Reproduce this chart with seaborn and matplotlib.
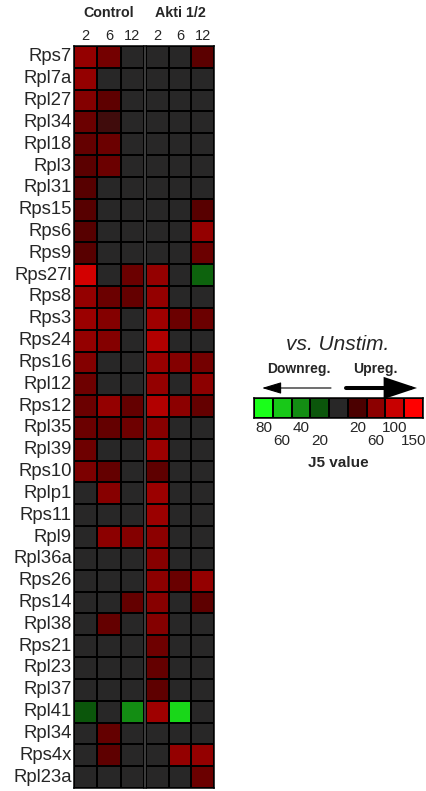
import numpy as np
import pandas as pd
import matplotlib
matplotlib.use("Agg")
import matplotlib.pyplot as plt
import seaborn as sns
from matplotlib.colors import LinearSegmentedColormap
from matplotlib.patches import FancyArrowPatch

sns.set_theme(style="white")
plt.rcParams['font.family'] = ['Liberation Sans', 'DejaVu Sans']

genes = ["Rps7", "Rpl7a", "Rpl27", "Rpl34", "Rpl18", "Rpl3", "Rpl31", "Rps15", "Rps6", "Rps9",
         "Rps27l", "Rps8", "Rps3", "Rps24", "Rps16", "Rpl12", "Rps12", "Rpl35", "Rpl39", "Rps10",
         "Rplp1", "Rps11", "Rpl9", "Rpl36a", "Rps26", "Rps14", "Rpl38", "Rps21", "Rpl23", "Rpl37",
         "Rpl41", "Rpl34", "Rps4x", "Rpl23a"]
timepoints = ["2", "6", "12"]

# signed J5 values (positive = upregulated, negative = downregulated, 0 = unchanged)
control_2 = [65, 65, 55, 40, 35, 30, 27, 27, 27, 28,
             110, 65, 70, 65, 55, 42, 40, 40, 42, 50,
             0, 0, 0, 0, 0, 0, 0, 0, 0, 0,
             -20, 0, 0, 0]
control_6 = [45, 0, 32, 14, 40, 40, 0, 0, 0, 0,
             0, 40, 55, 55, 0, 0, 65, 35, 0, 35,
             57, 0, 60, 0, 0, 0, 35, 0, 0, 0,
             0, 35, 32, 0]
control_12 = [0, 0, 0, 0, 0, 0, 0, 0, 0, 0,
              40, 35, 0, 0, 0, 0, 35, 42, 0, 0,
              0, 0, 55, 0, 0, 35, 0, 0, 0, 0,
              -40, 0, 0, 0]
akti_2 = [0, 0, 0, 0, 0, 0, 0, 0, 0, 0,
          65, 65, 72, 85, 68, 65, 85, 57, 70, 32,
          70, 70, 60, 57, 60, 57, 55, 42, 35, 32,
          72, 0, 0, 0]
akti_6 = [0, 0, 0, 0, 0, 0, 0, 0, 0, 0,
          0, 0, 40, 0, 55, 0, 60, 0, 0, 0,
          0, 0, 0, 0, 38, 0, 0, 0, 0, 0,
          -65, 0, 65, 0]
akti_12 = [30, 0, 0, 0, 0, 0, 0, 28, 65, 40,
           -25, 0, 40, 0, 45, 60, 35, 0, 0, 0,
           0, 0, 0, 0, 65, 32, 0, 0, 0, 0,
           0, 0, 65, 40]

legend_values = [-80, -60, -40, -20, 0, 20, 60, 100, 150]
legend_labels = ["80", "60", "40", "20", "", "20", "60", "100", "150"]
legend_row = [0, 1, 0, 1, 0, 0, 1, 0, 1]  # staggered label rows

node_colors = ["#1aff1a", "#18c818", "#138c13", "#0b550b", "#282828",
               "#4b0000", "#8c0000", "#c80000", "#ff0000"]
vmin, vmax = min(legend_values), max(legend_values)
cmap = LinearSegmentedColormap.from_list(
    "j5", [((v - vmin) / (vmax - vmin), c) for v, c in zip(legend_values, node_colors)])

df_ctrl = pd.DataFrame({"2": control_2, "6": control_6, "12": control_12}, index=genes)
df_akti = pd.DataFrame({"2": akti_2, "6": akti_6, "12": akti_12}, index=genes)

W, H = 426, 791
fig = plt.figure(figsize=(W / 100, H / 100), dpi=100)
fig.patch.set_facecolor("white")

def fx(px):
    return px / W

def fy(py):
    return 1 - py / H

top, bot = 46, 788
ax1 = fig.add_axes([fx(74), fy(bot), fx(144) - fx(74), fy(top) - fy(bot)])
ax2 = fig.add_axes([fx(146), fy(bot), fx(214) - fx(146), fy(top) - fy(bot)])

for ax, df, title in [(ax1, df_ctrl, "Control"), (ax2, df_akti, "Akti 1/2")]:
    sns.heatmap(df, ax=ax, cmap=cmap, vmin=vmin, vmax=vmax, cbar=False,
                linewidths=1.4, linecolor="black", square=False)
    ax.xaxis.tick_top()
    ax.set_xticklabels(timepoints, fontsize=10.5, rotation=0)
    ax.tick_params(axis="both", length=0, pad=2)
    for s in ax.spines.values():
        s.set_visible(True)
        s.set_color("black")
        s.set_linewidth(1.1)
    ax.set_xlabel("")
    ax.set_ylabel("")
    ax.text(1.5, -1.5, title, ha="center", va="center", fontsize=10.3,
            fontweight="bold")

ax1.set_yticks(np.arange(len(genes)) + 0.5)
ax1.set_yticklabels(genes, fontsize=13.3, rotation=0)
ax1.tick_params(axis="y", pad=1.5)
ax2.set_yticks([])

# legend colour bar
axl = fig.add_axes([fx(254), fy(418), fx(423) - fx(254), fy(398) - fy(418)])
sns.heatmap(np.array([legend_values]), ax=axl, cmap=cmap, vmin=vmin, vmax=vmax,
            cbar=False, linewidths=1.4, linecolor="black")
axl.set_xticks([])
axl.set_yticks([])
for s in axl.spines.values():
    s.set_visible(True)
    s.set_color("black")
    s.set_linewidth(1.1)
for i, (lab, r) in enumerate(zip(legend_labels, legend_row)):
    if lab:
        axl.text(i + 0.5, 1.52 + 0.65 * r, lab, ha="center", va="center",
                 fontsize=11, clip_on=False)
axl.text(4.5, 3.25, "J5 value", ha="center", va="center", fontsize=11,
         fontweight="bold", clip_on=False)

fig.text(fx(338), fy(345), "vs. Unstim.", ha="center", va="center",
         fontsize=15, style="italic")
fig.text(fx(299), fy(369), "Downreg.", ha="center", va="center",
         fontsize=10, fontweight="bold")
fig.text(fx(375), fy(369), "Upreg.", ha="center", va="center",
         fontsize=10, fontweight="bold")

fig.add_artist(FancyArrowPatch(
    (fx(331), fy(388)), (fx(262), fy(388)), transform=fig.transFigure,
    arrowstyle="-|>,head_length=12,head_width=3.6", lw=0.8, color="black",
    mutation_scale=1, shrinkA=0, shrinkB=0))
fig.add_artist(FancyArrowPatch(
    (fx(346), fy(388)), (fx(417), fy(388)), transform=fig.transFigure,
    arrowstyle="-|>,head_length=18,head_width=6", lw=2.9, color="black",
    mutation_scale=1, shrinkA=0, shrinkB=0, joinstyle="miter"))

fig.savefig("out.png", dpi=100, facecolor="white")
